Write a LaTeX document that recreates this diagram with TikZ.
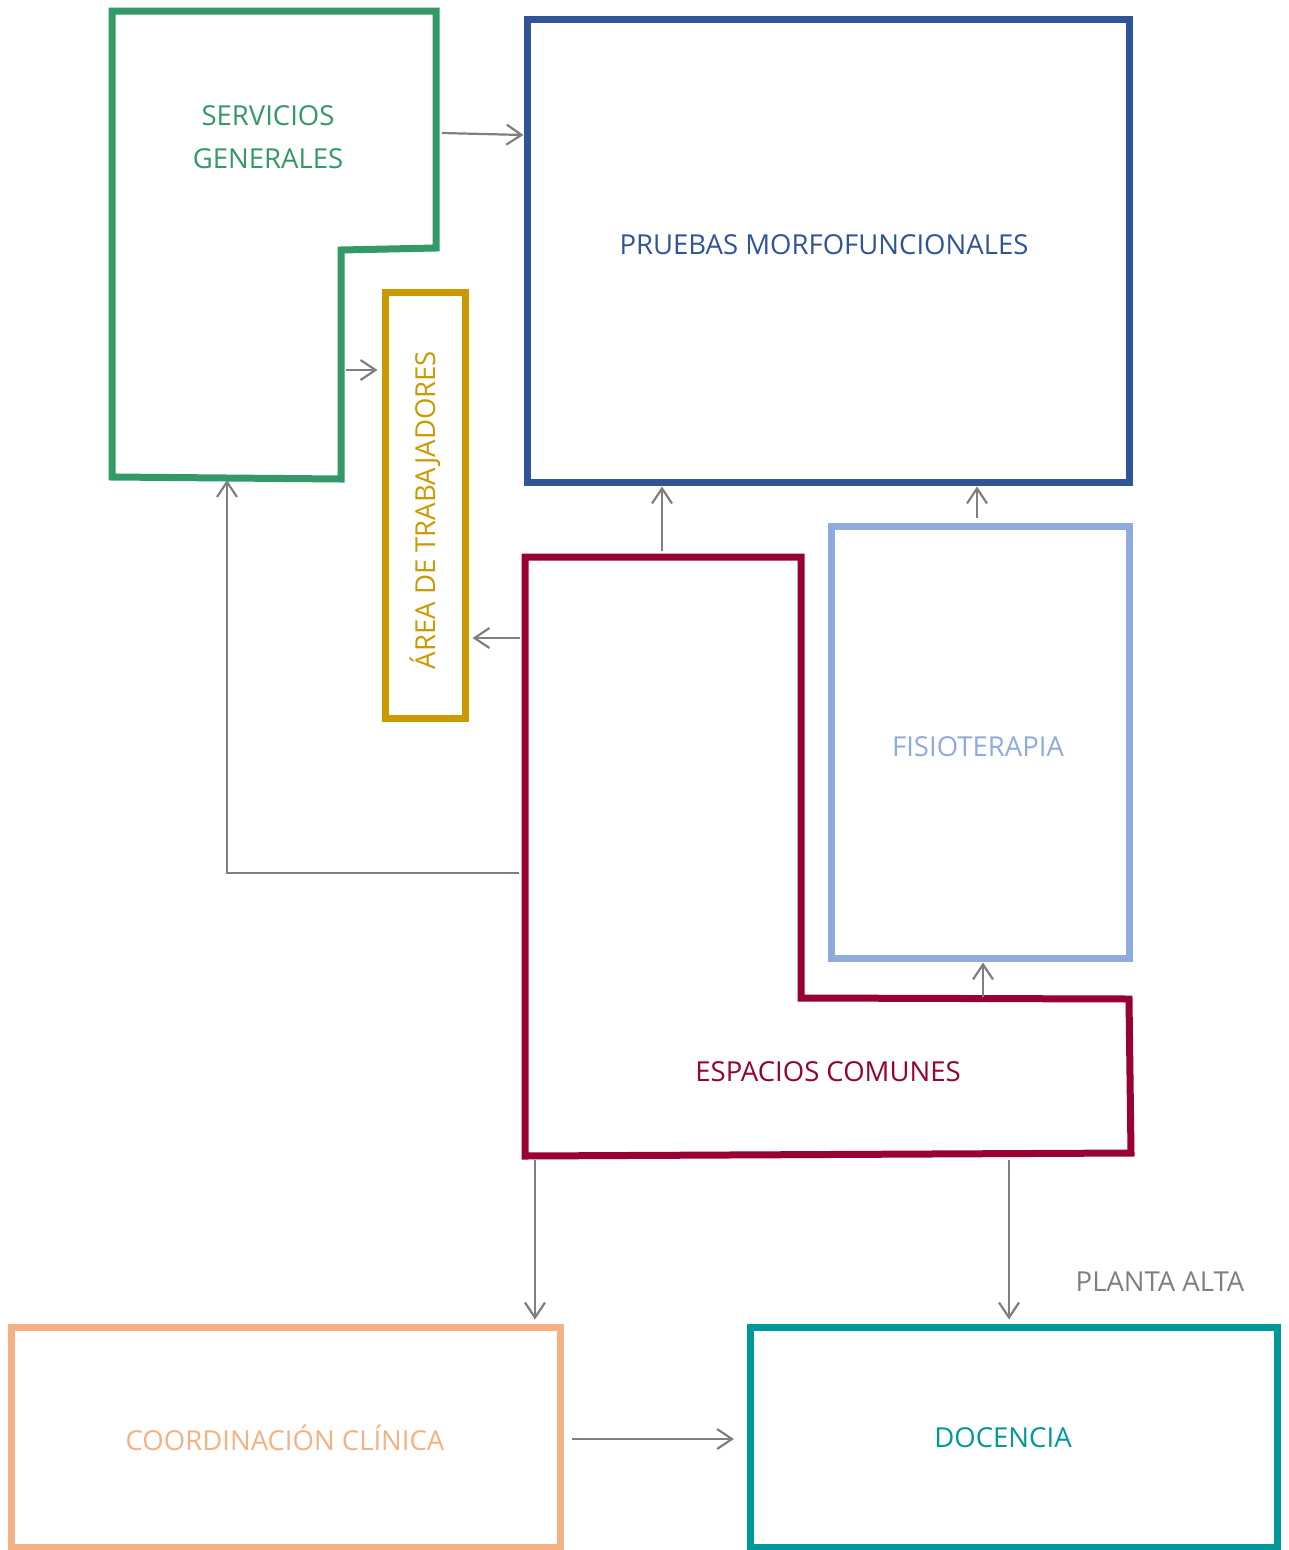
\documentclass[tikz,border=0pt]{standalone}
\usepackage{fontspec}
\setmainfont{Open Sans}
\usetikzlibrary{arrows.meta}
\definecolor{cgreen}{RGB}{51,153,102}
\definecolor{cblue}{RGB}{47,85,151}
\definecolor{cgold}{RGB}{204,153,0}
\definecolor{clblue}{RGB}{143,170,220}
\definecolor{cmaroon}{RGB}{153,0,51}
\definecolor{corange}{RGB}{244,177,131}
\definecolor{cteal}{RGB}{0,153,153}
\definecolor{cgray}{RGB}{127,127,127}
\begin{document}
\begin{tikzpicture}[x=1pt,y=-1pt,
  box/.style={draw,line width=7pt,rectangle,inner sep=0pt,line join=miter},
  wall/.style={draw,line width=7pt,line join=miter},
  lbl/.style={font=\fontsize{27.5}{43}\selectfont,align=center,inner sep=0pt},
  arr/.style={draw=cgray,line width=2.2pt,-{Straight Barb[length=15pt,width=20pt,line width=2.2pt]}}]
\useasboundingbox (0,0) rectangle (1288,1550);
% boxes
\node[box,draw=cblue,minimum width=602pt,minimum height=463pt] (pm) at (828,250.5) {};
\node[box,draw=cgold,minimum width=80pt,minimum height=426pt] (at) at (425,505) {};
\node[box,draw=clblue,minimum width=298pt,minimum height=432pt] (fis) at (980,742) {};
\node[box,draw=corange,minimum width=549pt,minimum height=220pt] (cc) at (285.5,1437) {};
\node[box,draw=cteal,minimum width=527pt,minimum height=220pt] (doc) at (1013.5,1437) {};
% polygons
\draw[wall,draw=cgreen] (112,11) -- (436,11) -- (436,248) -- (341,250) -- (341,479) -- (112,477) -- cycle;
\draw[wall,draw=cmaroon] (525,557) -- (801,557) -- (801,998) -- (1129,999) -- (1131,1153) -- (525,1156) -- cycle;
% labels
\node[lbl,text=cgreen] (sgt) at (268,137.5) {SERVICIOS\\GENERALES};
\node[lbl,text=cblue] (pmt) at (824,245) {PRUEBAS MORFOFUNCIONALES};
\node[lbl,text=cgold,rotate=90] (att) at (425,510) {ÁREA DE TRABAJADORES};
\node[lbl,text=clblue] (fist) at (978,747) {FISIOTERAPIA};
\node[lbl,text=cmaroon] (ect) at (828,1072) {ESPACIOS COMUNES};
\node[lbl,text=corange] (cct) at (285,1438) {COORDINACIÓN CLÍNICA};
\node[lbl,text=cteal] (doct) at (1003,1438) {DOCENCIA};
\node[lbl,text=cgray] (pa) at (1160,1282) {PLANTA ALTA};
% connector anchors
\coordinate (sg1) at (442,133);
\coordinate (sg2) at (346,370);
\coordinate (sgb) at (227,480);
\coordinate (ec1) at (520,638);
\coordinate (ec2) at (519,873);
\coordinate (ec3) at (662,551);
\coordinate (ec4) at (983,997);
\coordinate (ec5) at (535,1160);
\coordinate (ec6) at (1009,1160);
\coordinate (fi1) at (977,518);
\coordinate (cc1) at (572,1439);
\coordinate (dc1) at (734,1439);
% connectors (y axis is flipped: negative yshift moves down on the page)
\draw[arr] (sg1) -- ([yshift=-2pt]pm.west |- sg1) ;
\draw[arr] (sg2) -- ([xshift=-4pt]at.west |- sg2);
\draw[arr] (ec1) -- ([xshift=4pt]at.east |- ec1);
\draw[arr] (ec2) -- (sgb |- ec2) -- (sgb);
\draw[arr] (ec3) -- ([yshift=-1pt]pm.south -| ec3);
\draw[arr] (fi1) -- ([yshift=-1pt]pm.south -| fi1);
\draw[arr] (ec4) -- ([yshift=-1pt]fis.south -| ec4);
\draw[arr] (ec5) -- ([yshift=4pt]cc.north -| ec5);
\draw[arr] (ec6) -- ([yshift=4pt]doc.north -| ec6);
\draw[arr] (cc1) -- (dc1);
\end{tikzpicture}
\end{document}
